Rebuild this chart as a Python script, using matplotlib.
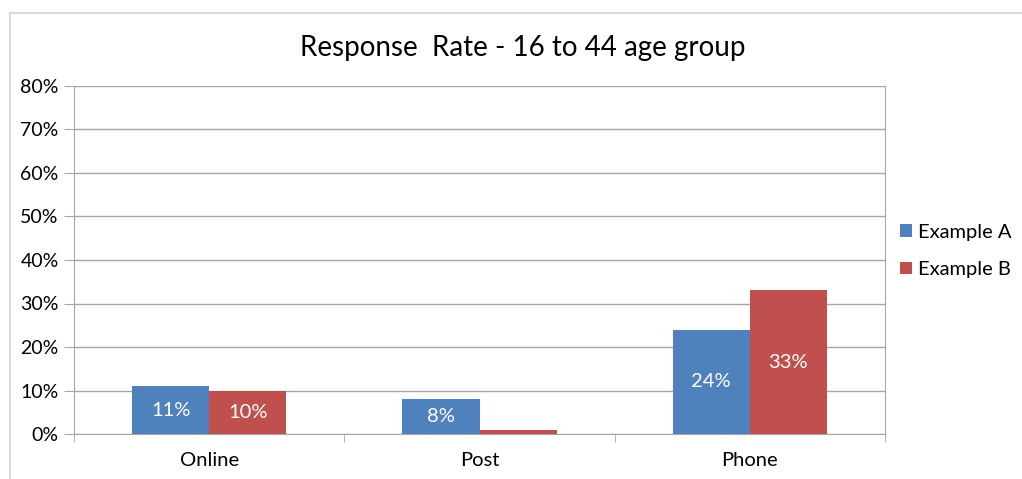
import matplotlib.pyplot as plt
import numpy as np
from matplotlib.patches import Rectangle

# data
categories = ["Online", "Post", "Phone"]
example_a = [11, 8, 24]
example_b = [10, 1, 33]
labels_a = ["11%", "8%", "24%"]
labels_b = ["10%", "", "33%"]
yticks = [0, 10, 20, 30, 40, 50, 60, 70, 80]

blue = "#4F81BD"
red = "#C0504D"
grid_col = "#A6A6A6"

plt.rcParams['font.family'] = ['Lato', 'DejaVu Sans']

fig = plt.figure(figsize=(10.22, 4.79), dpi=100)
# outer chart border
fig.patches.append(Rectangle((10 / 1022, -0.05), 1.1, 1 - 13 / 479 + 0.05,
                             transform=fig.transFigure, fill=False,
                             edgecolor="#D9D9D9", linewidth=1.5))
ax = fig.add_axes([74 / 1022, 1 - 434 / 479, (885 - 74) / 1022, (434 - 86) / 479])

x = np.arange(len(categories))
w = 0.285
bars_a = ax.bar(x - w / 2, example_a, w, color=blue, label="Example A", zorder=3)
bars_b = ax.bar(x + w / 2, example_b, w, color=red, label="Example B", zorder=3)

for bar, lab in zip(bars_a, labels_a):
    ax.text(bar.get_x() + bar.get_width() / 2, bar.get_height() / 2, lab,
            ha="center", va="center", color="white", fontsize=14.5, zorder=4)
for bar, lab in zip(bars_b, labels_b):
    ax.text(bar.get_x() + bar.get_width() / 2, bar.get_height() / 2, lab,
            ha="center", va="center", color="white", fontsize=14.5, zorder=4)

ax.set_xlim(-0.5, len(categories) - 0.5)
ax.set_ylim(0, 80)
ax.set_yticks(yticks)
ax.set_yticklabels([f"{t}%" for t in yticks], fontsize=14)
ax.yaxis.grid(True, color=grid_col, linewidth=1, zorder=0)

# category labels between boundary ticks
ax.set_xticks(x)
ax.set_xticklabels(categories, fontsize=14.5)
ax.tick_params(axis="x", length=0, pad=13)
ax.set_xticks(np.arange(len(categories) + 1) - 0.5, minor=True)
ax.tick_params(axis="x", which="minor", length=6, color=grid_col)
ax.tick_params(axis="y", length=7, color=grid_col, pad=4)

ax.spines["top"].set_visible(False)
ax.spines["left"].set_color(grid_col)
ax.spines["right"].set_color(grid_col)
ax.spines["bottom"].set_color(grid_col)

fig.text(523 / 1022, 1 - 48 / 479, "Response  Rate - 16 to 44 age group",
         ha="center", va="center", fontsize=20)

fig.legend(handles=[bars_a, bars_b], labels=["Example A", "Example B"],
           loc="center left", bbox_to_anchor=(882 / 1022, 1 - 251 / 479),
           frameon=False, fontsize=14.5, handlelength=0.6, handleheight=0.6,
           labelspacing=1.0, handletextpad=0.3)

fig.savefig("out.png", dpi=100)
